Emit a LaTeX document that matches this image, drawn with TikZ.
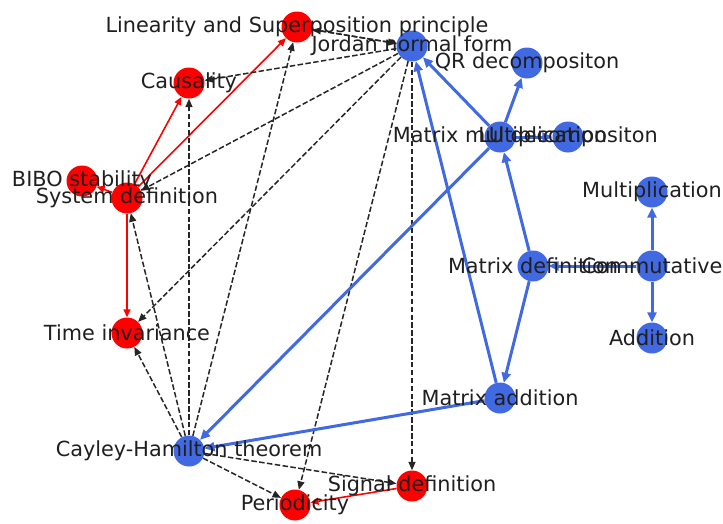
\documentclass[tikz,border=0pt]{standalone}
\usepackage{fontspec}
\setmainfont{DejaVu Sans}
\usetikzlibrary{arrows.meta}
\pgfdeclarelayer{bg}
\pgfsetlayers{bg,main}
\definecolor{nblue}{RGB}{65,105,225}
\definecolor{nred}{RGB}{255,0,0}
\tikzset{
  vb/.style={circle, fill=nblue, minimum size=31pt, inner sep=0pt},
  vr/.style={circle, fill=nred, minimum size=31pt, inner sep=0pt},
  lab/.style={font=\fontsize{20.8}{25}\selectfont, text=black!88, inner sep=0pt},
  bedge/.style={nblue, line width=3pt, -{Triangle[length=10pt,width=9pt]}},
  redge/.style={nred, line width=1.6pt, -{Triangle[length=8pt,width=7pt]}},
  dedge/.style={black!85, line width=1.5pt, dash pattern=on 5.5pt off 2.4pt, -{Triangle[length=8.5pt,width=7pt]}},
}
\begin{document}
\begin{tikzpicture}[x=1pt,y=-1pt]
\useasboundingbox (0,0) rectangle (723,523);
% nodes
\node[vr] (lin) at (297,27) {};
\node[vb] (jor) at (412,46) {};
\node[vb] (qr) at (527,63) {};
\node[vr] (cau) at (189,83) {};
\node[vb] (mm) at (500,137) {};
\node[vb] (lu) at (568,137) {};
\node[vr] (bibo) at (82,181) {};
\node[vr] (sys) at (127,198) {};
\node[vb] (mul) at (652,192) {};
\node[vb] (mdef) at (533,266) {};
\node[vb] (com) at (652,266) {};
\node[vb] (add) at (652,338) {};
\node[vr] (ti) at (127,333) {};
\node[vb] (madd) at (500,398) {};
\node[vb] (ch) at (189,451) {};
\node[vr] (sig) at (412,486) {};
\node[vr] (per) at (295,505) {};
% edges
\begin{pgfonlayer}{bg}
\draw[redge] (sys) -- (cau);
\draw[redge] (sys) -- (lin);
\draw[redge] (sys) -- (bibo);
\draw[redge] (sys) -- (ti);
\draw[redge] (sig) -- (per);
\draw[dedge] (jor) -- (lin);
\draw[dedge] (lin) -- (jor);
\draw[dedge] (jor) -- (cau);
\draw[dedge] (jor) -- (sys);
\draw[dedge] (jor) -- (ti);
\draw[dedge] (jor) -- (per);
\draw[dedge] (jor) -- (sig);
\draw[dedge] (ch) -- (lin);
\draw[dedge] (ch) -- (cau);
\draw[dedge] (ch) -- (sys);
\draw[dedge] (ch) -- (ti);
\draw[dedge] (ch) -- (per);
\draw[dedge] (ch) -- (sig);
\draw[bedge] (mdef) -- (mm);
\draw[bedge] (mdef) -- (madd);
\draw[bedge] (com) -- (mdef);
\draw[bedge] (com) -- (mul);
\draw[bedge] (com) -- (add);
\draw[bedge] (madd) -- (jor);
\draw[bedge] (mm) -- (jor);
\draw[bedge] (mm) -- (qr);
\draw[bedge] (mm) -- (lu);
\draw[bedge] (mm) -- (ch);
\draw[bedge] (madd) -- (ch);
\end{pgfonlayer}
% labels
\node[lab] (tlin) at (lin) {Linearity and Superposition principle};
\node[lab] (tjor) at (jor) {Jordan normal form};
\node[lab] (tqr) at (qr) {QR decompositon};
\node[lab] (tcau) at (cau) {Causality};
\node[lab] (tmm) at (mm) {Matrix multiplication};
\node[lab] (tlu) at (lu) {LU decompositon};
\node[lab] (tbibo) at (bibo) {BIBO stability};
\node[lab] (tsys) at (sys) {System definition};
\node[lab] (tmul) at (mul) {Multiplication};
\node[lab] (tmdef) at (mdef) {Matrix definition};
\node[lab] (tcom) at (com) {Commutative};
\node[lab] (tadd) at (add) {Addition};
\node[lab] (tti) at (ti) {Time invariance};
\node[lab] (tmadd) at (madd) {Matrix addition};
\node[lab] (tch) at (ch) {Cayley-Hamilton theorem};
\node[lab] (tsig) at (sig) {Signal definition};
\node[lab] (tper) at (per) {Periodicity};
\end{tikzpicture}
\end{document}
